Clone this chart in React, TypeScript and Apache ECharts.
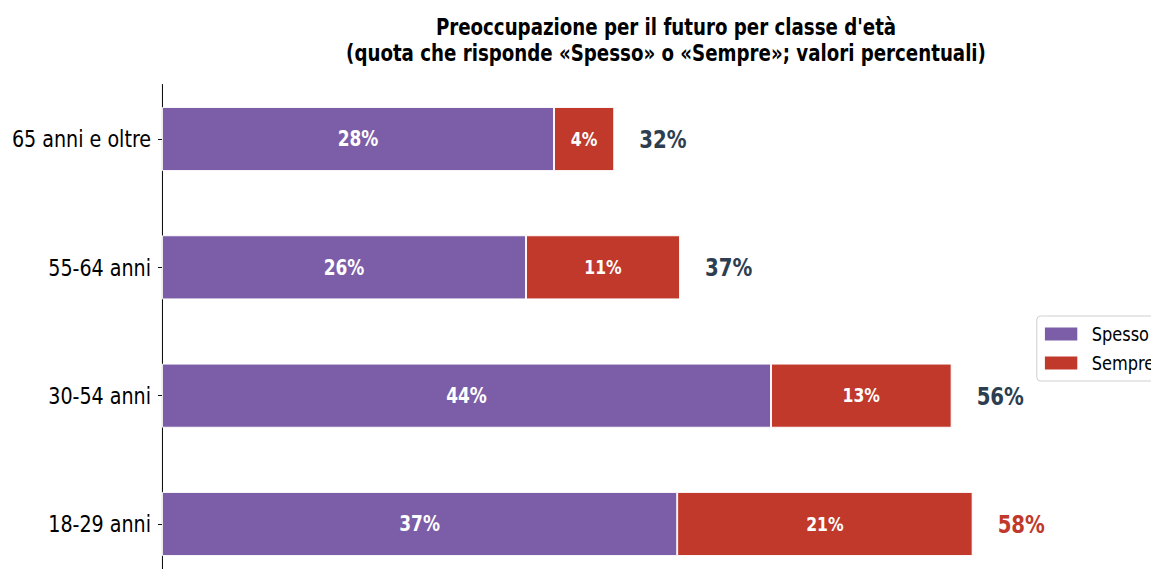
import React, { useEffect, useRef } from "react";
import * as echarts from "echarts";

const categories = ["18-29 anni", "30-54 anni", "55-64 anni", "65 anni e oltre"];
const spesso = [36.8, 43.5, 26, 28];
const sempre = [21.1, 12.9, 11, 4.3];
const totals = [57.9, 56.4, 37, 32.3];
const spessoLabels = ["37%", "44%", "26%", "28%"];
const sempreLabels = ["21%", "13%", "11%", "4%"];
const totalLabels = ["58%", "56%", "37%", "32%"];
const totalColors = ["#C0392B", "#2C3E50", "#2C3E50", "#2C3E50"];

const FONT = "'DejaVu Sans Condensed', 'DejaVu Sans', sans-serif";
const PURPLE = "#7B5EA7";
const RED = "#C0392B";

// The reference uses a condensed face; emulate it by drawing wider and squeezing horizontally.
const SX = 0.9;
const W = 1151 / SX;
const H = 569;

export default function App() {
  const ref = useRef<HTMLDivElement>(null);
  useEffect(() => {
    if (!ref.current) return;
    const chart = echarts.init(ref.current, undefined, { renderer: "svg" });
    chart.setOption({
      animation: false,
      backgroundColor: "#fff",
      textStyle: { fontFamily: FONT },
      title: {
        text: "Preoccupazione per il futuro per classe d'età\n(quota che risponde «Spesso» o «Sempre»; valori percentuali)",
        left: 740,
        top: 14,
        padding: 0,
        textAlign: "center",
        textStyle: {
          fontFamily: FONT,
          fontWeight: "bold",
          fontSize: 22.5,
          lineHeight: 26,
          color: "#000",
        },
      },
      legend: {
        orient: "vertical",
        left: 1152,
        top: 316,
        padding: [8, 10, 8, 7],
        itemGap: 9,
        itemWidth: 38,
        itemHeight: 15,
        borderColor: "#cccccc",
        borderWidth: 1,
        borderRadius: 4,
        backgroundColor: "rgba(255,255,255,0.8)",
        textStyle: { fontFamily: FONT, fontSize: 20, color: "#000", padding: [0, 0, 0, 10] },
        data: [
          { name: "Spesso", icon: "rect" },
          { name: "Sempre", icon: "rect" },
        ],
      },
      grid: [
        { left: 180, top: 74.85, width: 1088.9, height: 513.3, containLabel: false, outerBoundsMode: "none" },
        { left: 180, top: 84.5, width: 10, height: 494, containLabel: false, outerBoundsMode: "none" },
      ],
      xAxis: [
        { type: "value", gridIndex: 0, min: 0, max: 70, show: false },
        { type: "value", gridIndex: 1, min: 0, max: 1, show: false },
      ],
      yAxis: [
        {
          type: "category",
          gridIndex: 0,
          data: categories,
          axisLine: { show: false },
          axisTick: { show: true, alignWithLabel: true, length: 4.5, lineStyle: { color: "#000", width: 1 } },
          axisLabel: { fontFamily: FONT, fontSize: 23.6, color: "#000", margin: 12.2 },
          splitLine: { show: false },
        },
        {
          type: "value",
          gridIndex: 1,
          min: 0,
          max: 1,
          axisLine: { show: true, lineStyle: { color: "#000", width: 1.1 } },
          axisTick: { show: false },
          axisLabel: { show: false },
          splitLine: { show: false },
        },
      ],
      series: [
        {
          name: "Spesso",
          type: "bar",
          stack: "tot",
          xAxisIndex: 0,
          yAxisIndex: 0,
          barWidth: "50%",
          data: spesso,
          itemStyle: { color: PURPLE, borderColor: "#fff", borderWidth: 1 },
          label: {
            show: true,
            position: "inside",
            color: "#fff",
            fontWeight: "bold",
            fontSize: 21,
            fontFamily: FONT,
            formatter: (p: any) => spessoLabels[p.dataIndex],
          },
        },
        {
          name: "Sempre",
          type: "bar",
          stack: "tot",
          xAxisIndex: 0,
          yAxisIndex: 0,
          barWidth: "50%",
          data: sempre,
          itemStyle: { color: RED, borderColor: "#fff", borderWidth: 1 },
          label: {
            show: true,
            position: "inside",
            color: "#fff",
            fontWeight: "bold",
            fontSize: 19.3,
            fontFamily: FONT,
            formatter: (p: any) => sempreLabels[p.dataIndex],
          },
        },
        {
          name: "Totale",
          type: "bar",
          xAxisIndex: 0,
          yAxisIndex: 0,
          barWidth: "50%",
          barGap: "-100%",
          silent: true,
          data: totals.map((v, i) => ({
            value: v,
            label: { color: totalColors[i] },
          })),
          itemStyle: { color: "rgba(0,0,0,0)" },
          label: {
            show: true,
            position: "right",
            distance: 27.8,
            fontWeight: "bold",
            fontSize: 24.4,
            fontFamily: FONT,
            formatter: (p: any) => totalLabels[p.dataIndex],
          },
          z: 1,
        },
      ],
    });
    return () => chart.dispose();
  }, []);
  return (
    <div style={{ position: "absolute", left: 0, top: 0, width: 1151, height: H, overflow: "hidden", background: "#fff" }}>
      <div
        ref={ref}
        style={{
          width: W,
          height: H,
          transform: `scaleX(${SX})`,
          transformOrigin: "0 0",
        }}
      />
    </div>
  );
}
